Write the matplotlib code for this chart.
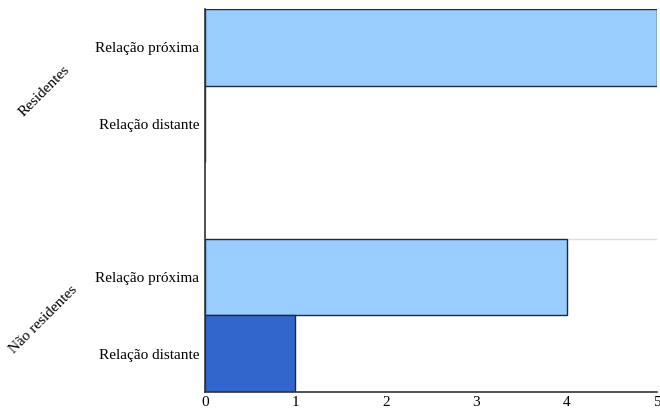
import matplotlib
matplotlib.use("Agg")
import matplotlib.pyplot as plt

grupos = ["Residentes", "Não residentes"]
relacoes = ["Relação próxima", "Relação distante"]
residentes = [5, 0]
nao_residentes = [4, 1]
cores = ["#99ccff", "#3366cc"]

plt.rcParams['font.family'] = ['Liberation Serif', 'DejaVu Serif']

fig = plt.figure(figsize=(6.6, 4.12), dpi=100)
ax = fig.add_axes([205/660, 1-392/412, 452/660, 383/412])

# row positions (one empty row between the two groups)
pos_res = [0.5, 1.5]
pos_nres = [3.5, 4.5]

for i in range(2):
    ax.barh(pos_res[i], residentes[i], height=1.0, color=cores[i],
            edgecolor="#1c2a44", linewidth=1.0)
    ax.barh(pos_nres[i], nao_residentes[i], height=1.0, color=cores[i],
            edgecolor="#1c2a44", linewidth=1.0)

ax.axhline(3, color="#dddddd", linewidth=1.0, zorder=0)

ax.set_ylim(5, 0)
ax.set_xlim(0, 5)
ax.set_yticks(pos_res + pos_nres)
ax.set_yticklabels(relacoes + relacoes, fontsize=11)
ax.set_xticks(range(6))
ax.set_xticklabels([str(v) for v in range(6)], fontsize=11)
ax.tick_params(length=0, pad=4)
ax.tick_params(axis='x', pad=3)

for s in ["top", "right"]:
    ax.spines[s].set_visible(False)
for s in ["left", "bottom"]:
    ax.spines[s].set_color("#333333")
    ax.spines[s].set_linewidth(1.2)

fig.text(44/660, 1-91/412, grupos[0], rotation=45, ha="center", va="center", fontsize=11)
fig.text(43/660, 1-320/412, grupos[1], rotation=45, ha="center", va="center", fontsize=11)

fig.savefig("out.png", dpi=100)
